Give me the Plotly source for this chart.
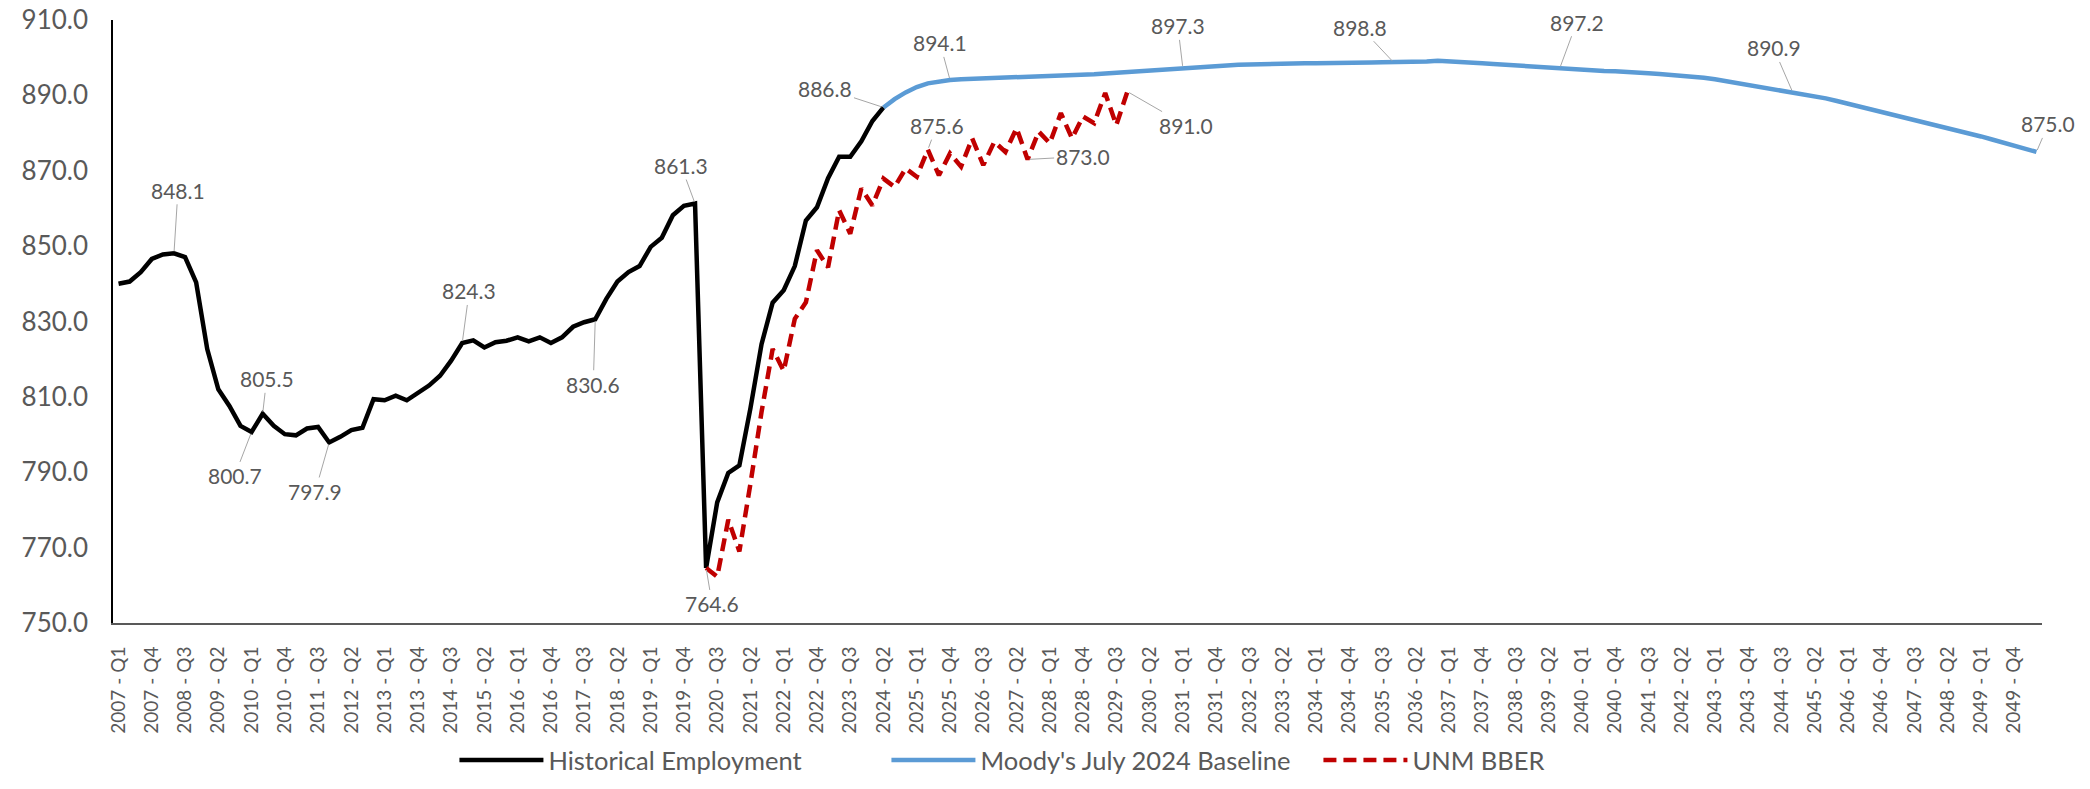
import plotly.graph_objects as go

# ---------------- data ----------------
categories = [f"{y} - Q{q}" for y in range(2007, 2051) for q in range(1, 5)][:174]
tick_labels = categories[::3]

hist_start = "2007 - Q1"
historical = [
    840.0, 840.6, 843.1, 846.6, 847.8, 848.1, 847.1, 840.4, 822.7, 812.0,
    807.6, 802.3, 800.7, 805.5, 802.3, 800.1, 799.8, 801.6, 802.0, 797.9,
    799.4, 801.2, 801.8, 809.4, 809.1, 810.3, 809.1, 811.2, 813.0, 815.6,
    819.6, 824.3, 825.0, 823.1, 824.5, 824.9, 825.8, 824.7, 825.8, 824.3,
    825.8, 828.6, 829.8, 830.6, 836.0, 840.6, 843.1, 844.7, 849.8, 852.2,
    858.2, 860.7, 861.3, 764.6, 782.0, 789.8, 791.8, 807.0, 824.0, 835.0,
    838.3, 844.7, 856.8, 860.3, 868.0, 873.7, 873.7, 877.8, 883.2, 886.8,
]

base_start = "2024 - Q2"
baseline = [
    886.8, 889.0, 890.8, 892.2, 893.2, 893.8, 894.1, 894.3, 894.4, 894.4,
    894.4, 894.5, 894.6, 894.8, 894.9, 895.0, 895.0, 895.2, 895.4, 895.6,
    895.8, 896.0, 896.2, 896.5, 896.7, 896.9, 897.1, 897.3, 897.5, 897.7,
    897.8, 898.0, 898.1, 898.2, 898.3, 898.4, 898.4, 898.5, 898.5, 898.5,
    898.5, 898.5, 898.5, 898.6, 898.7, 898.8, 898.8, 898.9, 898.9, 899.0,
    899.2, 899.1, 898.9, 898.7, 898.5, 898.3, 898.1, 897.9, 897.7, 897.5,
    897.4, 897.2, 897.0, 896.8, 896.6, 896.5, 896.4, 896.3, 896.1, 895.9,
    895.7, 895.5, 895.3, 895.0, 894.7, 894.3, 893.8, 893.2, 892.7, 892.3,
    891.8, 891.4, 890.9, 890.4, 889.8, 889.2, 888.5, 887.8, 887.1, 886.4,
    885.7, 885.0, 884.3, 883.6, 882.8, 882.0, 881.3, 880.6, 879.9, 879.1,
    878.3, 877.5, 876.6, 875.8, 875.0,
]

bber_start = "2020 - Q2"
bber = [
    764.6, 762.3, 777.4, 769.0, 787.0, 806.0, 822.7, 816.9, 830.7, 835.1,
    848.9, 844.4, 859.5, 853.3, 865.3, 860.8, 867.9, 865.7, 870.6, 868.4,
    875.6, 868.8, 874.6, 871.1, 878.6, 871.5, 877.7, 875.0, 881.3, 873.0,
    880.4, 877.3, 885.3, 878.6, 884.4, 882.6, 890.6, 882.1, 891.0,
]

series_names = ["Historical Employment", "Moody's July 2024 Baseline", "UNM BBER"]

# labelled points: (series index, category, label offset x px, offset y px)
labelled = [
    (0, "2008 - Q2", 4, -63),
    (0, "2010 - Q2", 4, -35),
    (0, "2010 - Q1", -17, 44),
    (0, "2011 - Q4", -14, 49),
    (0, "2014 - Q4", 7, -52),
    (0, "2017 - Q4", -2, 65),
    (0, "2020 - Q1", -14, -38),
    (0, "2020 - Q2", 6, 36),
    (0, "2024 - Q2", -58, -19),
    (1, "2025 - Q4", -10, -37),
    (1, "2031 - Q1", -5, -42),
    (1, "2035 - Q4", -33, -35),
    (1, "2039 - Q3", 17, -46),
    (1, "2044 - Q4", -19, -44),
    (1, "2050 - Q2", 12, -28),
    (2, "2025 - Q2", 9, -24),
    (2, "2027 - Q3", 55, -3),
    (2, "2029 - Q4", 59, 34),
]

# ---------------- figure ----------------
def xs_for(start, vals):
    s = categories.index(start)
    return categories[s:s + len(vals)]

series = [
    (historical, hist_start, dict(color="#000000", width=4.5)),
    (baseline, base_start, dict(color="#5B9BD5", width=4.5)),
    (bber, bber_start, dict(color="#C00000", width=4.5, dash="13px,7px")),
]

FONT = "Lato, Open Sans, Arial, sans-serif"
GREY = "#595959"

fig = go.Figure()
for (vals, start, line), name in zip(series, series_names):
    fig.add_trace(go.Scatter(
        x=xs_for(start, vals), y=vals, mode="lines", name=name,
        line=dict(**line), hoverinfo="x+y",
    ))

lookup = []
for vals, start, _ in series:
    lookup.append(dict(zip(xs_for(start, vals), vals)))

for si, cat, ax, ay in labelled:
    v = lookup[si][cat]
    fig.add_annotation(
        x=cat, y=v, xref="x", yref="y", text=f"{v:.1f}",
        showarrow=True, arrowhead=0, arrowwidth=1, arrowcolor="#A6A6A6",
        ax=ax, ay=ay, standoff=2,
        font=dict(family=FONT, size=21, color=GREY),
    )

fig.update_layout(
    width=2090, height=789,
    margin=dict(l=113, r=48, t=20, b=166, autoexpand=False),
    paper_bgcolor="white", plot_bgcolor="white",
    font=dict(family=FONT, color=GREY),
    showlegend=True,
    legend=dict(
        orientation="h", x=0.177, xanchor="left", y=-0.228, yanchor="middle",
        font=dict(family=FONT, size=25.5, color=GREY),
        entrywidth=333, entrywidthmode="pixels", itemwidth=84,
        bgcolor="rgba(0,0,0,0)",
    ),
    xaxis=dict(
        type="category", categoryorder="array", categoryarray=categories,
        range=[-0.5, len(categories) - 0.5], automargin=False,
        tickmode="array", tickvals=tick_labels, ticktext=tick_labels,
        tickangle=-90, tickfont=dict(family=FONT, size=19, color=GREY),
        showgrid=False, zeroline=False, showline=True,
        linecolor="#595959", linewidth=2, ticks="", ticklabelstandoff=14,
    ),
    yaxis=dict(
        range=[750, 910], dtick=20, tick0=750, tickformat=".1f", automargin=False,
        tickfont=dict(family=FONT, size=26, color=GREY),
        showgrid=False, zeroline=False, showline=True,
        linecolor="#000000", linewidth=1.5,
        ticks="outside", ticklen=0, tickcolor="rgba(0,0,0,0)",
        ticklabelstandoff=18,
    ),
)

fig.write_html(
    "out.html",
    config={"displayModeBar": False},
    post_script="document.body.style.margin='0';document.body.style.overflow='hidden';",
)
